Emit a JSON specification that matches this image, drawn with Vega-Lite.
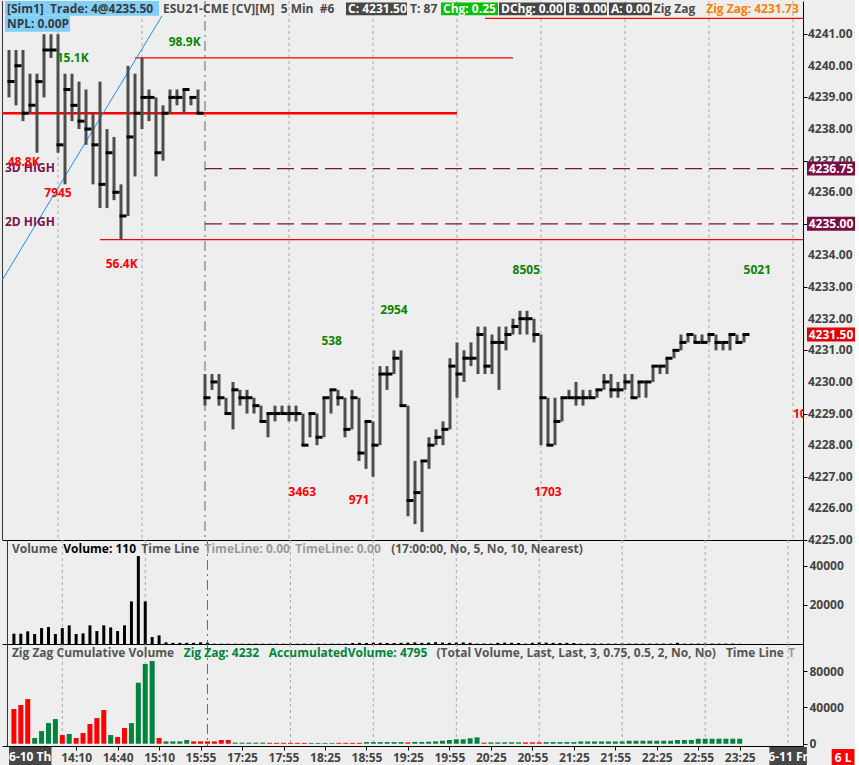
{
"$schema": "https://vega.github.io/schema/vega-lite/v6.json",
"background": "#eeeeee",
"padding": 0,
"spacing": 0,
"bounds": "flush",
"config": {
 "view": {"stroke": null},
 "axis": {"labelFont": "Open Sans", "labelFontWeight": "bold", "labelFontSize": 12, "labelColor": "#444444", "tickColor": "#000000", "domainColor": "#000000", "grid": false, "labelOverlap": false}
},
"datasets": {
 "grid": [{"i":7},{"i":19},{"i":40},{"i":52},{"i":64},{"i":76},{"i":88},{"i":100},{"i":112}],
 "session": [{"i":28}],
 "edge": [{"i":-0.93}],
 "pticks": [{"p":4225},{"p":4226},{"p":4227},{"p":4228},{"p":4229},{"p":4230},{"p":4231},{"p":4232},{"p":4233},{"p":4234},{"p":4235},{"p":4236},{"p":4237},{"p":4238},{"p":4239},{"p":4240},{"p":4241}],
 "ohlc": [
  {"i":0,"h":4240.5,"l":4239,"c":4239.5},{"i":1,"h":4240.5,"l":4238.75,"c":4240},{"i":2,"h":4240.5,"l":4238.25,"c":4238.5},
  {"i":3,"h":4239.75,"l":4238.5,"c":4238.75},{"i":4,"h":4239.75,"l":4237.25,"c":4239.5},{"i":5,"h":4241,"l":4239,"c":4240.5},
  {"i":6,"h":4241,"l":4240.25,"c":4240.5},{"i":7,"h":4241,"l":4237.25,"c":4237.5},{"i":8,"h":4239.75,"l":4236.25,"c":4239.25},
  {"i":9,"h":4239.75,"l":4238.25,"c":4238.75},{"i":10,"h":4239.5,"l":4238,"c":4238.25},{"i":11,"h":4239.25,"l":4237.5,"c":4238},
  {"i":12,"h":4238.5,"l":4236.25,"c":4237.5},{"i":13,"h":4239.5,"l":4235.5,"c":4236.25},{"i":14,"h":4238,"l":4235.5,"c":4237.25},
  {"i":15,"h":4237.75,"l":4235.75,"c":4236},{"i":16,"h":4236.25,"l":4234.5,"c":4235.25},{"i":17,"h":4240,"l":4235.25,"c":4237.75},
  {"i":18,"h":4239.75,"l":4236.5,"c":4238.5},{"i":19,"h":4240.25,"l":4238,"c":4239},{"i":20,"h":4239.25,"l":4238.25,"c":4239},
  {"i":21,"h":4239,"l":4236.5,"c":4237.25},{"i":22,"h":4238.75,"l":4237,"c":4238.5},{"i":23,"h":4239.25,"l":4238.5,"c":4239},
  {"i":24,"h":4239.25,"l":4238.75,"c":4239},{"i":25,"h":4239.25,"l":4238.5,"c":4239.25},{"i":26,"h":4239,"l":4238.75,"c":4239},
  {"i":27,"h":4239.25,"l":4238.5,"c":4238.5},
  {"i":28,"h":4230.25,"l":4229.25,"c":4229.5},{"i":29,"h":4230.25,"l":4229.75,"c":4230},{"i":30,"h":4230.25,"l":4229.25,"c":4229.5},
  {"i":31,"h":4229.5,"l":4229,"c":4229},{"i":32,"h":4230,"l":4228.5,"c":4229.75},{"i":33,"h":4229.75,"l":4229.25,"c":4229.5},
  {"i":34,"h":4229.75,"l":4229,"c":4229.5},{"i":35,"h":4229.5,"l":4229,"c":4229.25},{"i":36,"h":4229.25,"l":4228.75,"c":4228.75},
  {"i":37,"h":4229,"l":4228.25,"c":4229},{"i":38,"h":4229.25,"l":4228.75,"c":4229},{"i":39,"h":4229.25,"l":4229,"c":4229},
  {"i":40,"h":4229.25,"l":4228.75,"c":4229},{"i":41,"h":4229.25,"l":4228.75,"c":4229},{"i":42,"h":4229,"l":4228,"c":4228},
  {"i":43,"h":4229,"l":4228.25,"c":4229},{"i":44,"h":4229,"l":4228,"c":4228.25},{"i":45,"h":4229.5,"l":4228.25,"c":4229.5},
  {"i":46,"h":4229.75,"l":4229,"c":4229.75},{"i":47,"h":4229.75,"l":4229.25,"c":4229.5},{"i":48,"h":4229.5,"l":4228.25,"c":4228.5},
  {"i":49,"h":4229.75,"l":4228.5,"c":4229.5},{"i":50,"h":4229.5,"l":4227.5,"c":4227.75},{"i":51,"h":4228.75,"l":4227.25,"c":4228.75},
  {"i":52,"h":4228.75,"l":4227,"c":4228},{"i":53,"h":4230.5,"l":4228,"c":4230.25},{"i":54,"h":4230.5,"l":4229.75,"c":4230.25},
  {"i":55,"h":4231,"l":4230.25,"c":4230.75},{"i":56,"h":4231,"l":4229.25,"c":4229.25},{"i":57,"h":4229.25,"l":4225.75,"c":4226.25},
  {"i":58,"h":4227.5,"l":4225.5,"c":4226.5},{"i":59,"h":4227.5,"l":4225.25,"c":4227.5},{"i":60,"h":4228.25,"l":4227.25,"c":4228},
  {"i":61,"h":4228.5,"l":4228,"c":4228.25},{"i":62,"h":4228.75,"l":4228,"c":4228.5},{"i":63,"h":4230.75,"l":4228.5,"c":4230.5},
  {"i":64,"h":4231.25,"l":4229.5,"c":4230.25},{"i":65,"h":4231,"l":4230,"c":4230.75},{"i":66,"h":4231.25,"l":4230.5,"c":4230.75},
  {"i":67,"h":4231.75,"l":4230.25,"c":4231.5},{"i":68,"h":4231.75,"l":4230.25,"c":4230.5},{"i":69,"h":4231.5,"l":4230.25,"c":4231.25},
  {"i":70,"h":4231.75,"l":4229.75,"c":4231.25},{"i":71,"h":4231.75,"l":4231,"c":4231.5},{"i":72,"h":4232,"l":4231.5,"c":4231.75},
  {"i":73,"h":4232.25,"l":4231.5,"c":4232},{"i":74,"h":4232.25,"l":4231.5,"c":4232},{"i":75,"h":4232,"l":4231.25,"c":4231.5},
  {"i":76,"h":4231.5,"l":4228,"c":4229.5},{"i":77,"h":4229.5,"l":4228,"c":4228},{"i":78,"h":4229.5,"l":4228,"c":4228.75},
  {"i":79,"h":4229.5,"l":4228.75,"c":4229.5},{"i":80,"h":4229.75,"l":4229.5,"c":4229.5},{"i":81,"h":4230,"l":4229.25,"c":4229.5},
  {"i":82,"h":4229.75,"l":4229.25,"c":4229.5},{"i":83,"h":4229.75,"l":4229.5,"c":4229.5},{"i":84,"h":4229.75,"l":4229.5,"c":4229.75},
  {"i":85,"h":4230.25,"l":4229.75,"c":4230},{"i":86,"h":4230.25,"l":4229.5,"c":4229.75},{"i":87,"h":4230,"l":4229.5,"c":4229.75},
  {"i":88,"h":4230.25,"l":4229.75,"c":4230},{"i":89,"h":4230.25,"l":4229.5,"c":4229.5},{"i":90,"h":4230,"l":4229.5,"c":4230},
  {"i":91,"h":4230,"l":4229.5,"c":4230},{"i":92,"h":4230.5,"l":4230,"c":4230.5},{"i":93,"h":4230.5,"l":4230.25,"c":4230.5},
  {"i":94,"h":4230.75,"l":4230.25,"c":4230.75},{"i":95,"h":4231,"l":4230.75,"c":4231},{"i":96,"h":4231.5,"l":4231,"c":4231.25},
  {"i":97,"h":4231.5,"l":4231.25,"c":4231.5},{"i":98,"h":4231.5,"l":4231.25,"c":4231.25},{"i":99,"h":4231.5,"l":4231.25,"c":4231.25},
  {"i":100,"h":4231.5,"l":4231.25,"c":4231.5},{"i":101,"h":4231.5,"l":4231,"c":4231.25},{"i":102,"h":4231.25,"l":4231,"c":4231.25},
  {"i":103,"h":4231.5,"l":4231,"c":4231.5},{"i":104,"h":4231.5,"l":4231.25,"c":4231.25},{"i":105,"h":4231.5,"l":4231.25,"c":4231.5}
 ],
 "levels": [
  {"i0":-1,"i1":64,"p":4238.5,"k":"thick"},
  {"i0":18,"i1":72,"p":4240.25,"k":"thin"},
  {"i0":68,"i1":113.43,"p":4241.5,"k":"thin"},
  {"i0":13,"i1":113.43,"p":4234.5,"k":"thin"},
  {"i0":28,"i1":113.43,"p":4236.75,"k":"dash"},
  {"i0":28,"i1":113.43,"p":4235.0,"k":"dash"}
 ],
 "trend": [{"i":-1,"p":4233.21},{"i":21.86,"p":4241.58}],
 "leftnotes": [
  {"i":-0.57,"p":4236.78,"t":"3D HIGH","k":"lvl"},
  {"i":-0.57,"p":4235.06,"t":"2D HIGH","k":"lvl"},
  {"i":112.0,"p":4229.0,"t":"10","k":"down"}
 ],
 "notes": [
  {"i":9.1,"p":4240.24,"t":"15.1K","k":"up"},
  {"i":25.1,"p":4240.76,"t":"98.9K","k":"up"},
  {"i":2.1,"p":4236.97,"t":"48.8K","k":"down"},
  {"i":7.0,"p":4235.99,"t":"7945","k":"down"},
  {"i":16.1,"p":4233.72,"t":"56.4K","k":"down"},
  {"i":46.1,"p":4231.29,"t":"538","k":"up"},
  {"i":55.0,"p":4232.27,"t":"2954","k":"up"},
  {"i":41.9,"p":4226.52,"t":"3463","k":"down"},
  {"i":50.0,"p":4226.26,"t":"971","k":"down"},
  {"i":73.9,"p":4233.53,"t":"8505","k":"up"},
  {"i":106.9,"p":4233.53,"t":"5021","k":"up"},
  {"i":77.0,"p":4226.52,"t":"1703","k":"down"}
 ],
 "hdrbox": [
  {"i0":-0.57,"i1":21.43,"p0":4242.05,"p1":4241.58,"k":"sky"},
  {"i0":-0.57,"i1":8.71,"p0":4241.58,"p1":4241.08,"k":"sky"},
  {"i0":48.14,"i1":56.86,"p0":4242.0,"p1":4241.6,"k":"dark"},
  {"i0":61.71,"i1":69.86,"p0":4242.0,"p1":4241.6,"k":"green"},
  {"i0":70.0,"i1":79.29,"p0":4242.0,"p1":4241.6,"k":"dark"},
  {"i0":79.57,"i1":85.43,"p0":4242.0,"p1":4241.6,"k":"dark"},
  {"i0":85.71,"i1":91.86,"p0":4242.0,"p1":4241.6,"k":"dark"}
 ],
 "hdrtext": [
  {"i":-0.29,"p":4241.81,"t":"[Sim1]\u00a0\u00a0Trade: 4@4235.50","k":"sky"},
  {"i":-0.29,"p":4241.32,"t":"NPL: 0.00P","k":"sky"},
  {"i":22.0,"p":4241.81,"t":"ESU21-CME [CV][M]\u00a0\u00a05 Min\u00a0\u00a0#6","k":"plain"},
  {"i":48.43,"p":4241.81,"t":"C: 4231.50","k":"white"},
  {"i":57.3,"p":4241.81,"t":"T: 87","k":"plain"},
  {"i":62.0,"p":4241.81,"t":"Chg: 0.25","k":"white"},
  {"i":70.3,"p":4241.81,"t":"DChg: 0.00","k":"white"},
  {"i":79.9,"p":4241.81,"t":"B: 0.00","k":"white"},
  {"i":86.0,"p":4241.81,"t":"A: 0.00","k":"white"},
  {"i":92.1,"p":4241.81,"t":"Zig Zag","k":"plain"},
  {"i":99.6,"p":4241.81,"t":"Zig Zag: 4231.73","k":"orange"}
 ],
 "tags": [
  {"p":4231.5,"t":"4231.50","k":"last"},
  {"p":4236.75,"t":"4236.75","k":"lvl"},
  {"p":4235.0,"t":"4235.00","k":"lvl"}
 ],
 "vol": [
  {"i":0,"v":5250},{"i":1,"v":5250},{"i":2,"v":6450},{"i":3,"v":5100},{"i":4,"v":8100},{"i":5,"v":8650},{"i":6,"v":5100},{"i":7,"v":8100},
  {"i":8,"v":9500},{"i":9,"v":5100},{"i":10,"v":5400},{"i":11,"v":9500},{"i":12,"v":6600},{"i":13,"v":9500},{"i":14,"v":8450},{"i":15,"v":6600},
  {"i":16,"v":9500},{"i":17,"v":21700},{"i":18,"v":44800},{"i":19,"v":21700},{"i":20,"v":3550},{"i":21,"v":4400},{"i":22,"v":850},{"i":23,"v":600},
  {"i":24,"v":600},{"i":25,"v":600},{"i":26,"v":600},{"i":27,"v":850},{"i":28,"v":600},{"i":29,"v":150},{"i":30,"v":150},{"i":31,"v":150},
  {"i":32,"v":150},{"i":33,"v":150},{"i":34,"v":150},{"i":35,"v":150},{"i":36,"v":150},{"i":37,"v":150},{"i":38,"v":150},{"i":39,"v":150},
  {"i":40,"v":150},{"i":41,"v":150},{"i":42,"v":150},{"i":43,"v":150},{"i":44,"v":150},{"i":45,"v":150},{"i":46,"v":150},{"i":47,"v":150},
  {"i":48,"v":150},{"i":49,"v":500},{"i":50,"v":600},{"i":51,"v":500},{"i":52,"v":700},{"i":53,"v":600},{"i":54,"v":500},{"i":55,"v":500},
  {"i":56,"v":600},{"i":57,"v":700},{"i":58,"v":800},{"i":59,"v":600},{"i":60,"v":700},{"i":61,"v":900},{"i":62,"v":700},{"i":63,"v":600},
  {"i":64,"v":700},{"i":65,"v":800},{"i":66,"v":600},{"i":67,"v":200},{"i":68,"v":250},{"i":69,"v":200},{"i":70,"v":600},{"i":71,"v":700},
  {"i":72,"v":600},{"i":73,"v":500},{"i":74,"v":200},{"i":75,"v":600},{"i":76,"v":800},{"i":77,"v":700},{"i":78,"v":600},{"i":79,"v":500},
  {"i":80,"v":600},{"i":81,"v":500},{"i":82,"v":200},{"i":83,"v":200},{"i":84,"v":200},{"i":85,"v":200},{"i":86,"v":200},{"i":87,"v":200},
  {"i":88,"v":200},{"i":89,"v":200},{"i":90,"v":200},{"i":91,"v":200},{"i":92,"v":200},{"i":93,"v":200},{"i":94,"v":200},{"i":95,"v":200},
  {"i":96,"v":600},{"i":97,"v":200},{"i":98,"v":200},{"i":99,"v":200},{"i":100,"v":200},{"i":101,"v":200},{"i":102,"v":200},{"i":103,"v":200},
  {"i":104,"v":200},{"i":105,"v":110}
 ],
 "vtitle": [
  {"i":-0.29,"t":"Volume","k":"lab"},
  {"i":7.14,"t":"Volume: 110","k":"val"},
  {"i":18.43,"t":"Time Line","k":"lab"},
  {"i":27.57,"t":"TimeLine: 0.00","k":"dim"},
  {"i":40.71,"t":"TimeLine: 0.00","k":"dim"},
  {"i":54.57,"t":"(17:00:00, No, 5, No, 10, Nearest)","k":"lab"}
 ],
 "zz": [
  {"i":0,"v":38300,"d":"dn"},{"i":1,"v":42700,"d":"dn"},{"i":2,"v":49300,"d":"dn"},{"i":3,"v":6300,"d":"up"},{"i":4,"v":14000,"d":"up"},
  {"i":5,"v":22800,"d":"up"},{"i":6,"v":27200,"d":"up"},{"i":7,"v":9600,"d":"dn"},{"i":8,"v":10700,"d":"up"},{"i":9,"v":6300,"d":"dn"},
  {"i":10,"v":11800,"d":"dn"},{"i":11,"v":21700,"d":"dn"},{"i":12,"v":28300,"d":"dn"},{"i":13,"v":37200,"d":"dn"},{"i":14,"v":9600,"d":"up"},
  {"i":15,"v":7400,"d":"dn"},{"i":16,"v":17300,"d":"dn"},{"i":17,"v":22800,"d":"up"},{"i":18,"v":67300,"d":"up"},{"i":19,"v":87900,"d":"up"},
  {"i":20,"v":91300,"d":"up"},{"i":21,"v":6300,"d":"dn"},{"i":22,"v":2600,"d":"up"},{"i":23,"v":2600,"d":"up"},{"i":24,"v":2600,"d":"up"},
  {"i":25,"v":4100,"d":"up"},{"i":26,"v":2600,"d":"dn"},{"i":27,"v":2600,"d":"dn"},{"i":28,"v":2600,"d":"dn"},{"i":29,"v":2600,"d":"dn"},
  {"i":30,"v":4100,"d":"dn"},{"i":31,"v":4100,"d":"dn"},{"i":32,"v":1200,"d":"up"},{"i":33,"v":1200,"d":"up"},{"i":34,"v":1200,"d":"up"},
  {"i":35,"v":1200,"d":"up"},{"i":36,"v":1200,"d":"up"},{"i":37,"v":1000,"d":"dn"},{"i":38,"v":1000,"d":"dn"},{"i":39,"v":1000,"d":"dn"},
  {"i":40,"v":1000,"d":"dn"},{"i":41,"v":1000,"d":"dn"},{"i":42,"v":1000,"d":"dn"},{"i":43,"v":900,"d":"up"},{"i":44,"v":900,"d":"up"},
  {"i":45,"v":900,"d":"up"},{"i":46,"v":900,"d":"up"},{"i":47,"v":1000,"d":"dn"},{"i":48,"v":1000,"d":"dn"},{"i":49,"v":1000,"d":"dn"},
  {"i":50,"v":1000,"d":"dn"},{"i":51,"v":1800,"d":"up"},{"i":52,"v":1800,"d":"up"},{"i":53,"v":1800,"d":"up"},{"i":54,"v":1800,"d":"up"},
  {"i":55,"v":1800,"d":"up"},{"i":56,"v":1800,"d":"up"},{"i":57,"v":1500,"d":"dn"},{"i":58,"v":2000,"d":"up"},{"i":59,"v":2000,"d":"up"},
  {"i":60,"v":2200,"d":"up"},{"i":61,"v":2600,"d":"up"},{"i":62,"v":3300,"d":"up"},{"i":63,"v":4100,"d":"up"},{"i":64,"v":4900,"d":"up"},
  {"i":65,"v":4900,"d":"up"},{"i":66,"v":6000,"d":"up"},{"i":67,"v":7000,"d":"up"},{"i":68,"v":1200,"d":"dn"},{"i":69,"v":1500,"d":"up"},
  {"i":70,"v":1500,"d":"up"},{"i":71,"v":1500,"d":"up"},{"i":72,"v":1500,"d":"up"},{"i":73,"v":1500,"d":"up"},{"i":74,"v":1500,"d":"dn"},
  {"i":75,"v":1500,"d":"dn"},{"i":76,"v":1500,"d":"dn"},{"i":77,"v":1800,"d":"up"},{"i":78,"v":1800,"d":"up"},{"i":79,"v":1800,"d":"up"},
  {"i":80,"v":1800,"d":"up"},{"i":81,"v":1800,"d":"up"},{"i":82,"v":2500,"d":"up"},{"i":83,"v":2500,"d":"up"},{"i":84,"v":2500,"d":"up"},
  {"i":85,"v":2500,"d":"up"},{"i":86,"v":2500,"d":"up"},{"i":87,"v":2500,"d":"up"},{"i":88,"v":2500,"d":"up"},{"i":89,"v":3300,"d":"up"},
  {"i":90,"v":3300,"d":"up"},{"i":91,"v":3300,"d":"up"},{"i":92,"v":3300,"d":"up"},{"i":93,"v":3300,"d":"up"},{"i":94,"v":3300,"d":"up"},
  {"i":95,"v":3300,"d":"up"},{"i":96,"v":4100,"d":"up"},{"i":97,"v":4100,"d":"up"},{"i":98,"v":4100,"d":"up"},{"i":99,"v":5500,"d":"up"},
  {"i":100,"v":5500,"d":"up"},{"i":101,"v":5500,"d":"up"},{"i":102,"v":5500,"d":"up"},{"i":103,"v":5500,"d":"up"},{"i":104,"v":5500,"d":"up"},
  {"i":105,"v":5500,"d":"up"}
 ],
 "ztitle": [
  {"i":-0.29,"t":"Zig Zag Cumulative Volume","k":"lab"},
  {"i":24.57,"t":"Zig Zag: 4232","k":"grn"},
  {"i":36.86,"t":"AccumulatedVolume: 4795","k":"grn"},
  {"i":61.14,"t":"(Total Volume, Last, Last, 3, 0.75, 0.5, 2, No, No)","k":"lab"},
  {"i":103.0,"t":"Time Line","k":"lab"},
  {"i":112.0,"t":"T","k":"dim"}
 ],
 "datebox": [
  {"i0":-0.71,"i1":5.43,"v0":-3600,"v1":-24600,"k":"date"},
  {"i0":109.29,"i1":114.71,"v0":-3600,"v1":-24600,"k":"date"},
  {"i0":118.3,"i1":121.6,"v0":-5800,"v1":-24600,"k":"red"}
 ],
 "datetext": [
  {"i":2.36,"v":-14600,"t":"6-10 Th"},
  {"i":112.0,"v":-14600,"t":"6-11 Fr"},
  {"i":119.95,"v":-15600,"t":"6 L"}
 ]
},
"vconcat": [
 {
  "width": 801, "height": 539,
  "resolve": {"scale": {"color": "independent"}},
  "layer": [
   {"data": {"name": "grid"}, "mark": {"type": "rule", "color": "#a9a9a9", "strokeDash": [3,3], "strokeWidth": 1},
    "encoding": {"x": {"field": "i", "type": "quantitative", "scale": {"domain": [-1, 113.43], "nice": false, "zero": false},
      "axis": {"title": null, "labels": false, "ticks": false, "domain": true, "grid": false}}}},
   {"data": {"name": "session"}, "mark": {"type": "rule", "color": "#6a6a6a", "strokeDash": [10,4,2,4], "strokeWidth": 1},
    "encoding": {"x": {"field": "i", "type": "quantitative"}}},
   {"data": {"name": "edge"}, "mark": {"type": "rule", "color": "#333333", "strokeWidth": 1},
    "encoding": {"x": {"field": "i", "type": "quantitative"}}},
   {"data": {"name": "levels"}, "transform": [{"filter": "datum.k == 'thick'"}], "mark": {"type": "rule", "color": "#ff0000", "strokeWidth": 2.5},
    "encoding": {"x": {"field": "i0", "type": "quantitative"}, "x2": {"field": "i1"}, "y": {"field": "p", "type": "quantitative"}}},
   {"data": {"name": "levels"}, "transform": [{"filter": "datum.k == 'thin'"}], "mark": {"type": "rule", "color": "#ff0000", "strokeWidth": 1.2},
    "encoding": {"x": {"field": "i0", "type": "quantitative"}, "x2": {"field": "i1"}, "y": {"field": "p", "type": "quantitative"}}},
   {"data": {"name": "levels"}, "transform": [{"filter": "datum.k == 'dash'"}], "mark": {"type": "rule", "color": "#7b1349", "strokeWidth": 1.2, "strokeDash": [17,7]},
    "encoding": {"x": {"field": "i0", "type": "quantitative"}, "x2": {"field": "i1"}, "y": {"field": "p", "type": "quantitative"}}},
   {"data": {"name": "trend"}, "mark": {"type": "line", "color": "#1a8cff", "strokeWidth": 1},
    "encoding": {"x": {"field": "i", "type": "quantitative"}, "y": {"field": "p", "type": "quantitative"}}},
   {"data": {"name": "ohlc"}, "mark": {"type": "rule", "color": "#4d4d4d", "strokeWidth": 3, "strokeCap": "butt"},
    "encoding": {"x": {"field": "i", "type": "quantitative"},
     "y": {"field": "l", "type": "quantitative", "scale": {"domain": [4225, 4242.05], "nice": false, "zero": false},
      "axis": {"title": null, "orient": "right", "values": [4225,4226,4227,4228,4229,4230,4231,4232,4233,4234,4235,4236,4237,4238,4239,4240,4241], "labels": false, "tickSize": 4, "domain": true, "grid": false}},
     "y2": {"field": "h"}}},
   {"data": {"name": "ohlc"}, "mark": {"type": "tick", "orient": "horizontal", "size": 7, "thickness": 3, "color": "#000000", "opacity": 1, "xOffset": 2},
    "encoding": {"x": {"field": "i", "type": "quantitative"}, "y": {"field": "c", "type": "quantitative"}}},
   {"data": {"name": "pticks"}, "mark": {"type": "text", "font": "Open Sans", "fontWeight": "bold", "fontSize": 12, "align": "left", "baseline": "middle", "color": "#444444"},
    "encoding": {"x": {"datum": 114.14, "type": "quantitative"}, "y": {"field": "p", "type": "quantitative"}, "text": {"field": "p", "type": "quantitative", "format": ".2f"}}},
   {"data": {"name": "leftnotes"}, "mark": {"type": "text", "font": "Open Sans", "fontWeight": "bold", "fontSize": 12, "align": "left", "baseline": "middle", "clip": true},
    "encoding": {"x": {"field": "i", "type": "quantitative"}, "y": {"field": "p", "type": "quantitative"}, "text": {"field": "t"},
     "color": {"field": "k", "type": "nominal", "scale": {"domain": ["up","down","lvl"], "range": ["#0a840a","#ff0000","#7b1349"]}, "legend": null}}},
   {"data": {"name": "notes"}, "mark": {"type": "text", "font": "Open Sans", "fontWeight": "bold", "fontSize": 12, "align": "center", "baseline": "middle"},
    "encoding": {"x": {"field": "i", "type": "quantitative"}, "y": {"field": "p", "type": "quantitative"}, "text": {"field": "t"},
     "color": {"field": "k", "type": "nominal", "scale": {"domain": ["up","down","lvl"], "range": ["#0a840a","#ff0000","#7b1349"]}, "legend": null}}},
   {"data": {"name": "hdrbox"}, "mark": {"type": "rect", "opacity": 1},
    "encoding": {"x": {"field": "i0", "type": "quantitative"}, "x2": {"field": "i1"}, "y": {"field": "p0", "type": "quantitative"}, "y2": {"field": "p1"},
     "color": {"field": "k", "type": "nominal", "scale": {"domain": ["sky","dark","green"], "range": ["#80cff8","#474747","#00c000"]}, "legend": null}}},
   {"data": {"name": "hdrtext"}, "mark": {"type": "text", "font": "Open Sans", "fontWeight": "bold", "fontSize": 12, "align": "left", "baseline": "middle"},
    "encoding": {"x": {"field": "i", "type": "quantitative"}, "y": {"field": "p", "type": "quantitative"}, "text": {"field": "t"},
     "color": {"field": "k", "type": "nominal", "scale": {"domain": ["sky","plain","white","orange"], "range": ["#3a3a3a","#4a4a4a","#ffffff","#ff8000"]}, "legend": null}}},
   {"data": {"name": "tags"}, "mark": {"type": "tick", "orient": "horizontal", "size": 48, "thickness": 14, "opacity": 1},
    "encoding": {"x": {"datum": 117.43, "type": "quantitative"}, "y": {"field": "p", "type": "quantitative"},
     "color": {"field": "k", "type": "nominal", "scale": {"domain": ["last","lvl"], "range": ["#e00000","#7b0c45"]}, "legend": null}}},
   {"data": {"name": "tags"}, "mark": {"type": "text", "font": "Open Sans", "fontWeight": "bold", "fontSize": 12, "align": "center", "baseline": "middle", "color": "#ffffff"},
    "encoding": {"x": {"datum": 117.43, "type": "quantitative"}, "y": {"field": "p", "type": "quantitative"}, "text": {"field": "t"}}}
  ]
 },
 {
  "width": 801, "height": 104,
  "resolve": {"scale": {"color": "independent"}},
  "layer": [
   {"data": {"name": "grid"}, "mark": {"type": "rule", "color": "#a9a9a9", "strokeDash": [3,3], "strokeWidth": 1},
    "encoding": {"x": {"field": "i", "type": "quantitative", "scale": {"domain": [-1, 113.43], "nice": false, "zero": false},
      "axis": {"title": null, "labels": false, "ticks": false, "domain": true, "grid": false}}}},
   {"data": {"name": "session"}, "mark": {"type": "rule", "color": "#6a6a6a", "strokeDash": [10,4,2,4], "strokeWidth": 1},
    "encoding": {"x": {"field": "i", "type": "quantitative"}}},
   {"data": {"name": "edge"}, "mark": {"type": "rule", "color": "#333333", "strokeWidth": 1},
    "encoding": {"x": {"field": "i", "type": "quantitative"}}},
   {"data": {"name": "vol"}, "mark": {"type": "bar", "size": 3, "color": "#000000"},
    "encoding": {"x": {"field": "i", "type": "quantitative"},
     "y": {"field": "v", "type": "quantitative", "scale": {"domain": [0, 53000], "nice": false},
      "axis": {"title": null, "orient": "right", "values": [20000, 40000], "format": "d", "tickSize": 4, "labelPadding": 2, "domain": true, "grid": false}}}},
   {"data": {"name": "vtitle"}, "mark": {"type": "text", "font": "Open Sans", "fontWeight": "bold", "fontSize": 12, "align": "left", "baseline": "middle"},
    "encoding": {"x": {"field": "i", "type": "quantitative"}, "y": {"datum": 48400, "type": "quantitative"}, "text": {"field": "t"},
     "color": {"field": "k", "type": "nominal", "scale": {"domain": ["lab","val","dim"], "range": ["#555555","#000000","#9a9a9a"]}, "legend": null}}}
  ]
 },
 {
  "width": 801, "height": 102,
  "resolve": {"scale": {"color": "independent"}},
  "layer": [
   {"data": {"name": "grid"}, "mark": {"type": "rule", "color": "#a9a9a9", "strokeDash": [3,3], "strokeWidth": 1},
    "encoding": {"x": {"field": "i", "type": "quantitative", "scale": {"domain": [-1, 113.43], "nice": false, "zero": false},
      "axis": {"title": null, "values": [0,9,15,21,27,33,39,45,51,57,63,69,75,81,87,93,99,105,112], "tickSize": 4, "labelPadding": 2, "labelFlush": false, "labelOverlap": false,
       "labelExpr": "datum.value == 0 || datum.value == 112 ? '' : ['14:10','14:40','15:10','15:55','17:25','17:55','18:25','18:55','19:25','19:55','20:25','20:55','21:25','21:55','22:25','22:55','23:25'][(datum.value-9)/6]",
       "domain": true, "grid": false}}}},
   {"data": {"name": "session"}, "mark": {"type": "rule", "color": "#6a6a6a", "strokeDash": [10,4,2,4], "strokeWidth": 1},
    "encoding": {"x": {"field": "i", "type": "quantitative"}}},
   {"data": {"name": "edge"}, "mark": {"type": "rule", "color": "#333333", "strokeWidth": 1},
    "encoding": {"x": {"field": "i", "type": "quantitative"}}},
   {"data": {"name": "zz"}, "mark": {"type": "bar", "size": 5},
    "encoding": {"x": {"field": "i", "type": "quantitative"},
     "y": {"field": "v", "type": "quantitative", "scale": {"domain": [-2500, 110000], "nice": false, "zero": false},
      "axis": {"title": null, "orient": "right", "values": [0, 40000, 80000], "format": "d", "tickSize": 4, "labelPadding": 2, "domain": true, "grid": false}},
     "color": {"field": "d", "type": "nominal", "scale": {"domain": ["up","dn"], "range": ["#00843d","#ff0000"]}, "legend": null}}},
   {"data": {"name": "ztitle"}, "mark": {"type": "text", "font": "Open Sans", "fontWeight": "bold", "fontSize": 12, "align": "left", "baseline": "middle"},
    "encoding": {"x": {"field": "i", "type": "quantitative"}, "y": {"datum": 100000, "type": "quantitative"}, "text": {"field": "t"},
     "color": {"field": "k", "type": "nominal", "scale": {"domain": ["lab","grn","dim"], "range": ["#555555","#00843d","#9a9a9a"]}, "legend": null}}},
   {"data": {"name": "datebox"}, "mark": {"type": "rect", "opacity": 1},
    "encoding": {"x": {"field": "i0", "type": "quantitative"}, "x2": {"field": "i1"}, "y": {"field": "v0", "type": "quantitative"}, "y2": {"field": "v1"},
     "color": {"field": "k", "type": "nominal", "scale": {"domain": ["date","red"], "range": ["#474747","#ff0000"]}, "legend": null}}},
   {"data": {"name": "datetext"}, "mark": {"type": "text", "font": "Open Sans", "fontWeight": "bold", "fontSize": 12, "align": "center", "baseline": "middle", "color": "#ffffff"},
    "encoding": {"x": {"field": "i", "type": "quantitative"}, "y": {"field": "v", "type": "quantitative"}, "text": {"field": "t"}}}
  ]
 }
]
}
